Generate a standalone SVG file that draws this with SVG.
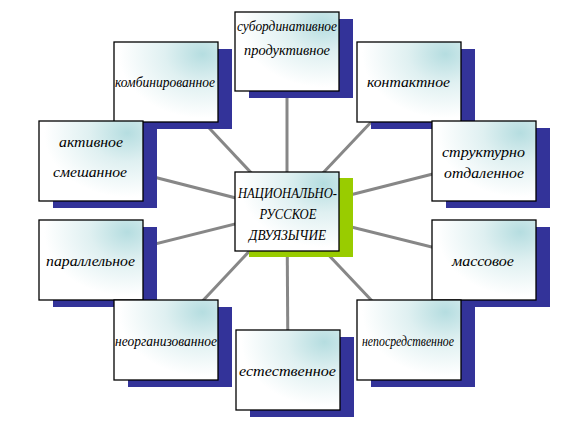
<svg xmlns="http://www.w3.org/2000/svg" width="576" height="423" viewBox="0 0 576 423">
<defs>
<radialGradient id="g" cx="0.85" cy="0.15" r="0.8" fx="0.85" fy="0.15">
<stop offset="0" stop-color="#b5dde0"/>
<stop offset="0.45" stop-color="#dff0f1"/>
<stop offset="1" stop-color="#ffffff"/>
</radialGradient>
<style>
.sh{fill:#333399}
.shg{fill:#99cc00}
.bx{fill:url(#g);stroke:#000;stroke-width:1.3}
.t{font-family:"Liberation Serif","DejaVu Serif",serif;font-style:italic;font-size:15px;fill:#000;text-anchor:middle}
.c{stroke:#878787;stroke-width:3;fill:none}
</style>
</defs>
<rect width="576" height="423" fill="#fff"/>
<g id="connectors">
<line class="c" x1="287" y1="211" x2="287" y2="52"/>
<line class="c" x1="287" y1="211" x2="166" y2="82"/>
<line class="c" x1="287" y1="211" x2="409" y2="82"/>
<line class="c" x1="287" y1="211" x2="91" y2="161"/>
<line class="c" x1="287" y1="211" x2="484" y2="161"/>
<line class="c" x1="287" y1="211" x2="91" y2="260"/>
<line class="c" x1="287" y1="211" x2="484" y2="260"/>
<line class="c" x1="287" y1="211" x2="166" y2="340"/>
<line class="c" x1="287" y1="211" x2="409" y2="340"/>
<line class="c" x1="287" y1="211" x2="288" y2="370"/>
</g>
<g id="n-subord">
<rect class="sh" x="249" y="19" width="104" height="79"/>
<rect class="bx" x="235" y="12" width="104" height="79"/>
<text class="t" x="287" y="31" textLength="100" lengthAdjust="spacingAndGlyphs">субординативное</text>
<text class="t" x="287" y="55" textLength="86" lengthAdjust="spacingAndGlyphs">продуктивное</text>
</g>
<g id="n-komb">
<rect class="sh" x="128" y="49" width="104" height="80"/>
<rect class="bx" x="114" y="42" width="104" height="80"/>
<text class="t" x="165" y="87" textLength="100" lengthAdjust="spacingAndGlyphs">комбинированное</text>
</g>
<g id="n-kont">
<rect class="sh" x="371" y="49" width="104" height="80"/>
<rect class="bx" x="357" y="42" width="104" height="80"/>
<text class="t" x="408.5" y="87" textLength="83" lengthAdjust="spacingAndGlyphs">контактное</text>
</g>
<g id="n-aktiv">
<rect class="sh" x="53" y="128" width="104" height="80"/>
<rect class="bx" x="39" y="121" width="104" height="80"/>
<text class="t" x="91" y="147" textLength="64" lengthAdjust="spacingAndGlyphs">активное</text>
<text class="t" x="90" y="177" textLength="74" lengthAdjust="spacingAndGlyphs">смешанное</text>
</g>
<g id="n-strukt">
<rect class="sh" x="446" y="128" width="104" height="80"/>
<rect class="bx" x="432" y="121" width="104" height="80"/>
<text class="t" x="483.5" y="157" textLength="83" lengthAdjust="spacingAndGlyphs">структурно</text>
<text class="t" x="484" y="178" textLength="80" lengthAdjust="spacingAndGlyphs">отдаленное</text>
</g>
<g id="n-center">
<rect class="shg" x="249" y="178" width="104" height="79"/>
<rect class="bx" x="235" y="172" width="104" height="79"/>
<text class="t" x="287.5" y="198" textLength="99" lengthAdjust="spacingAndGlyphs">НАЦИОНАЛЬНО-</text>
<text class="t" x="288" y="219" textLength="57" lengthAdjust="spacingAndGlyphs">РУССКОЕ</text>
<text class="t" x="287.5" y="240" textLength="77" lengthAdjust="spacingAndGlyphs">ДВУЯЗЫЧИЕ</text>
</g>
<g id="n-parall">
<rect class="sh" x="53" y="227" width="104" height="80"/>
<rect class="bx" x="39" y="220" width="104" height="80"/>
<text class="t" x="90.5" y="266" textLength="89" lengthAdjust="spacingAndGlyphs">параллельное</text>
</g>
<g id="n-massov">
<rect class="sh" x="446" y="227" width="104" height="80"/>
<rect class="bx" x="432" y="220" width="104" height="80"/>
<text class="t" x="483" y="266" textLength="62" lengthAdjust="spacingAndGlyphs">массовое</text>
</g>
<g id="n-neorg">
<rect class="sh" x="128" y="307" width="104" height="80"/>
<rect class="bx" x="114" y="300" width="104" height="80"/>
<text class="t" x="166" y="346" textLength="102" lengthAdjust="spacingAndGlyphs">неорганизованное</text>
</g>
<g id="n-neposr">
<rect class="sh" x="371" y="307" width="104" height="80"/>
<rect class="bx" x="357" y="300" width="104" height="80"/>
<text class="t" x="408" y="346" textLength="92" lengthAdjust="spacingAndGlyphs">непосредственное</text>
</g>
<g id="n-estestv">
<rect class="sh" x="250" y="337" width="104" height="80"/>
<rect class="bx" x="236" y="330" width="104" height="80"/>
<text class="t" x="287.5" y="376" textLength="97" lengthAdjust="spacingAndGlyphs">естественное</text>
</g>
</svg>
